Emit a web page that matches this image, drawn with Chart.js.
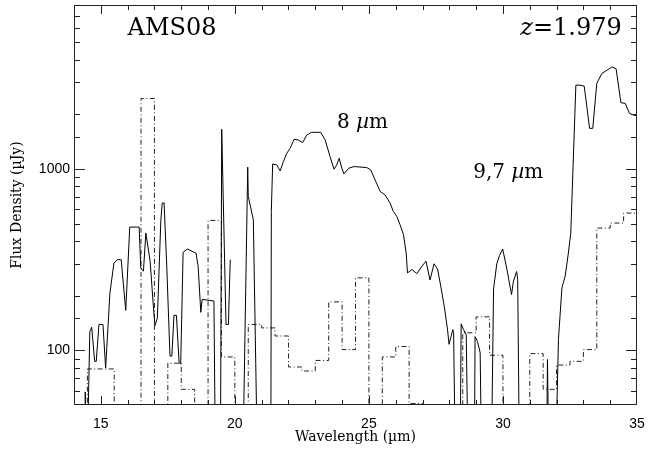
<!DOCTYPE html>
<html>
<head>
<meta charset="utf-8">
<script src="https://cdn.jsdelivr.net/npm/chart.js@4.4.1/dist/chart.umd.min.js"></script>
<style>
  html, body { margin: 0; padding: 0; background: #fff; }
</style>
</head>
<body>
<canvas id="specChart" width="650" height="456"></canvas>
<script>
/* ===========================
   DATA
=========================== */

// solid line: IRS spectrum (wavelength in micron, flux in microJy)
// null = gap in the spectrum
const solidWave = [
  14.40, 14.42, 14.48, 14.59, 14.66, 14.77, 14.83, 14.93, 15.08, 15.18,
  15.34, 15.49, 15.62, 15.76, 15.93, 16.08, 16.43, 16.49, 16.59, 16.68,
  16.84, 16.96, 17.02, 17.11, 17.24, 17.29, 17.36, 17.46, 17.58, 17.65,
  17.73, 17.82, 17.92, 17.98, 18.07, 18.23, 18.48, 18.55, 18.63, 18.73,
  18.78, 19.22, 19.28, 19.46, 19.51, 19.67, 19.76, 19.81, 19.83, 20.00,
  20.29, 20.48, 20.50, 20.69, 20.85, 21.34, 21.36, 21.41, 21.56, 21.69,
  21.81, 21.94, 22.06, 22.21, 22.37, 22.53, 22.68, 22.87, 23.20, 23.37,
  23.55, 23.70, 23.80, 23.89, 23.99, 24.07, 24.25, 24.45, 24.92, 25.07,
  25.23, 25.42, 25.60, 25.79, 25.91, 26.04, 26.16, 26.29, 26.39, 26.44,
  26.60, 26.79, 26.97, 27.13, 27.28, 27.43, 27.56, 27.68, 27.81, 27.93,
  27.99, 28.13, 28.16, 28.23, 28.40, 28.44, 28.53, 28.63, 28.71, 28.93,
  28.96, 29.05, 29.15, 29.21, 29.56, 29.65, 29.77, 29.87, 29.99, 30.15,
  30.32, 30.39, 30.51, 30.55, 30.62, 31.62, 31.66, 31.72, 31.95, 32.07,
  32.20, 32.32, 32.44, 32.53, 32.72, 32.88, 33.03, 33.13, 33.23, 33.35,
  33.50, 33.56, 33.69, 33.88, 34.06, 34.22, 34.40, 34.56, 34.72, 34.87,
  35.02
];
const solidFlux = [
  20, 59, 20, 127, 134, 87, 87, 139, 139, 80,
  207, 303, 316, 316, 166, 478, 478, 285, 273, 443,
  310, 175, 137, 151, 525, 648, 650, 291, 93, 93,
  156, 156, 86, 84, 347, 362, 347, 344, 291, 162,
  191, 187, 20, 20, 1652, 139, 139, 256, 316, null,
  20, 1022, 705, 525, 20, 20, 583, 1065, 1052, 975,
  1097, 1220, 1299, 1456, 1443, 1395, 1537, 1591, 1591, 1443,
  1169, 996, 1052, 1144, 1009, 939, 1009, 1030, 1017, 987,
  870, 751, 720, 648, 583, 547, 493, 434, 344, 267,
  279, 265, 290, 310, 244, 300, 281, 226, 175, 131,
  108, 130, 125, 20, 20, 140, 130, 122, 20, 20,
  119, 112, 97, 20, 20, 218, 300, 333, 362, 279,
  203, 240, 272, 246, 20, 20, 89, 20, 20, 115,
  221, 256, 344, 443, 2893, 2893, 2858, 2200, 1673, 1673,
  2957, 3082, 3357, 3497, 3643, 3568, 2316, 2295, 2021, 1980,
  1960
];

// dash-dot histogram: 0.5 micron bins (left edges), last edge closes the final bin
const binEdges = [
  14.0, 14.5, 15.0, 15.5, 16.0, 16.5, 17.0, 17.5, 18.0, 18.5,
  19.0, 19.5, 20.0, 20.5, 21.0, 21.5, 22.0, 22.5, 23.0, 23.5,
  24.0, 24.5, 25.0, 25.5, 26.0, 26.5, 27.0, 27.5, 28.0, 28.5,
  29.0, 29.5, 30.0, 30.5, 31.0, 31.5, 32.0, 32.5, 33.0, 33.5,
  34.0, 34.5, 35.0
];
const binFlux = [
  20, 79, 79, 20, 20, 2442, 20, 85, 61, 20,
  520, 92, 20, 139, 133, 120, 81, 77, 88, 185,
  101, 251, 20, 92, 105, 51, 20, 20, 20, 125,
  153, 94, 20, 20, 96, 61, 83, 87, 101, 472,
  503, 571, 571
];

// axis limits and labelled ticks
const xRange = [14, 35];
const yRange = [50, 8000];
const xLabelTicks = [15, 20, 25, 30, 35];
const yLabelTicks = [100, 1000];

/* ===========================
   HELPERS
=========================== */

const serif = '"DejaVu Serif", serif';
const sans = '"Liberation Sans", Arial, sans-serif';

function toPoints(xs, ys) {
    return xs.map((x, i) => ({ x: x, y: ys[i] }));
}

// draw a string made of normal / italic pieces
function drawParts(ctx, parts, x, y, size, align) {
    let total = 0;
    parts.forEach(p => {
        ctx.font = (p[1] ? 'italic ' : '') + size + 'px ' + serif;
        total += ctx.measureText(p[0]).width;
    });
    let cx = align === 'right' ? x - total : x;
    ctx.textAlign = 'left';
    ctx.textBaseline = 'alphabetic';
    parts.forEach(p => {
        ctx.font = (p[1] ? 'italic ' : '') + size + 'px ' + serif;
        ctx.fillText(p[0], cx, y);
        cx += ctx.measureText(p[0]).width;
    });
}

/* ===========================
   FRAME, INWARD TICKS, LABELS
=========================== */

const framePlugin = {
    id: 'frame',
    afterDraw(chart) {
        const ctx = chart.ctx;
        const a = chart.chartArea;
        const xs = chart.scales.x;
        const ys = chart.scales.y;
        ctx.save();
        ctx.strokeStyle = '#222';
        ctx.lineWidth = 1;
        ctx.strokeRect(a.left + 0.5, a.top + 0.5, a.right - a.left - 1, a.bottom - a.top - 1);

        ctx.beginPath();
        xs.ticks.forEach(t => {
            // skip the ticks that sit on the frame itself
            if (t.value <= xRange[0] || t.value >= xRange[1]) return;
            const px = Math.round(xs.getPixelForValue(t.value)) + 0.5;
            const len = t.value % 5 === 0 ? 9 : 5;
            ctx.moveTo(px, a.bottom);
            ctx.lineTo(px, a.bottom - len);
            ctx.moveTo(px, a.top);
            ctx.lineTo(px, a.top + len);
        });
        ys.ticks.forEach(t => {
            if (t.value <= yRange[0] || t.value >= yRange[1]) return;
            const py = Math.round(ys.getPixelForValue(t.value)) + 0.5;
            const len = yLabelTicks.includes(t.value) ? 11 : 6;
            ctx.moveTo(a.left, py);
            ctx.lineTo(a.left + len, py);
            ctx.moveTo(a.right, py);
            ctx.lineTo(a.right - len, py);
        });
        ctx.stroke();

        // text labels on the plot
        ctx.fillStyle = '#000';
        drawParts(ctx, [['AMS08', false]],
            xs.getPixelForValue(16.0), ys.getPixelForValue(5500), 24, 'left');
        drawParts(ctx, [['z', true], ['=1.979', false]],
            xs.getPixelForValue(34.43), ys.getPixelForValue(5500), 24, 'right');
        drawParts(ctx, [['8 ', false], ['\u00b5', true], ['m', false]],
            xs.getPixelForValue(23.81), ys.getPixelForValue(1680), 20, 'left');
        drawParts(ctx, [['9,7 ', false], ['\u00b5', true], ['m', false]],
            xs.getPixelForValue(28.89), ys.getPixelForValue(890), 20, 'left');
        ctx.restore();
    }
};

/* ===========================
   CHART.JS CONFIGURATION
=========================== */

const ctx = document.getElementById('specChart');

new Chart(ctx, {
    type: 'line',
    data: {
        datasets: [{
            label: 'Spectrum',
            data: toPoints(solidWave, solidFlux),
            borderColor: '#000',
            borderWidth: 1,
            pointRadius: 0,
            tension: 0,
            spanGaps: false,
            fill: false
        }, {
            label: 'Binned',
            data: toPoints(binEdges, binFlux),
            borderColor: '#222',
            borderWidth: 1,
            borderDash: [5, 2.5, 1, 2.5],
            pointRadius: 0,
            stepped: 'before',
            fill: false
        }]
    },
    options: {
        responsive: false,
        animation: false,
        layout: { padding: { left: 0, right: 13, top: 5, bottom: 0 } },
        plugins: {
            legend: { display: false },
            tooltip: { enabled: false }
        },
        scales: {
            x: {
                type: 'linear',
                min: xRange[0],
                max: xRange[1],
                grid: { display: false, drawTicks: false },
                border: { display: false },
                ticks: {
                    stepSize: 1,
                    autoSkip: false,
                    maxRotation: 0,
                    padding: 11,
                    color: '#000',
                    font: { family: sans, size: 14 },
                    callback: v => xLabelTicks.includes(v) ? String(v) : ''
                },
                title: {
                    display: true,
                    text: 'Wavelength (\u00b5m)',
                    color: '#000',
                    font: { family: serif, size: 14 },
                    padding: { top: 0, bottom: 10 }
                },
                afterFit(scale) {
                    scale.height = 51;
                    scale.paddingLeft = 0;
                    scale.paddingRight = 0;
                }
            },
            y: {
                type: 'logarithmic',
                min: yRange[0],
                max: yRange[1],
                grid: { display: false, drawTicks: false },
                border: { display: false },
                ticks: {
                    autoSkip: false,
                    padding: 4,
                    color: '#000',
                    font: { family: sans, size: 14 },
                    callback: v => yLabelTicks.includes(v) ? String(v) : ''
                },
                title: {
                    display: true,
                    text: 'Flux Density (\u00b5Jy)',
                    color: '#000',
                    font: { family: serif, size: 14 },
                    padding: { top: 9, bottom: 0 }
                },
                afterFit(scale) {
                    scale.width = 74;
                    scale.paddingTop = 0;
                    scale.paddingBottom = 0;
                }
            }
        }
    },
    plugins: [framePlugin]
});
</script>
</body>
</html>
